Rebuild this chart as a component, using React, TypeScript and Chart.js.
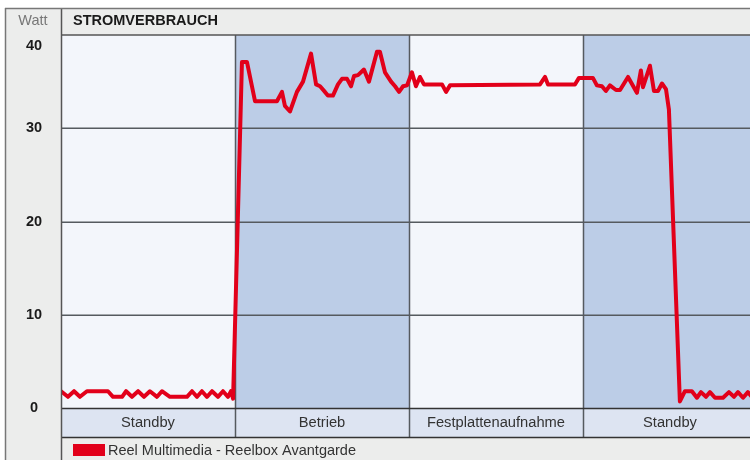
import React, { useEffect, useRef } from "react";
import { Chart, registerables } from "chart.js";

Chart.register(...registerables);

// time axis: one phase = 10 units
const times = [
  0, 0.4, 0.75, 1.09, 1.49, 2.7, 2.99, 3.51, 3.74, 4.08, 4.43, 4.77, 5.11, 5.52, 5.8, 6.26,
  7.24, 7.53, 7.82, 8.1, 8.39, 8.68, 9.02, 9.31, 9.6, 9.77, 9.89,
  10.4, 10.69, 11.15, 12.41, 12.7, 12.87, 13.16, 13.56, 13.91, 14.37, 14.66, 14.89, 15.17,
  15.34, 15.63, 15.92, 16.15, 16.44, 16.67, 16.84, 17.07, 17.41, 17.7, 18.16, 18.33, 18.62,
  18.97, 19.2, 19.43, 19.66, 19.89, 20.17, 20.4, 20.63, 20.86, 21.9, 22.13, 22.36, 27.53,
  27.82, 27.99, 29.54, 29.77, 30.57, 30.8, 31.09, 31.32, 31.55, 31.9, 32.13, 32.59, 33.1,
  33.33, 33.45, 33.85, 34.08, 34.31, 34.54, 34.77, 34.94, 35.57, 35.86, 36.26, 36.55, 36.78,
  37.07, 37.3, 37.59, 38.05, 38.39, 38.68, 38.91, 39.2, 39.48, 39.71,
];
const watts = [
  1.8, 1.2, 1.8, 1.2, 1.8, 1.8, 1.2, 1.2, 1.8, 1.2, 1.8, 1.2, 1.8, 1.2, 1.8, 1.2,
  1.2, 1.8, 1.2, 1.8, 1.2, 1.8, 1.2, 1.8, 1.2, 1.8, 1.0,
  37.1, 37.1, 32.9, 32.9, 33.9, 32.4, 31.8, 33.9, 35.0, 38.0, 34.7, 34.5, 33.9,
  33.5, 33.5, 34.7, 35.3, 35.3, 34.5, 35.6, 35.7, 36.3, 35.0, 38.2, 38.2, 36.0,
  35.0, 34.5, 33.9, 34.5, 34.6, 36.0, 34.5, 35.5, 34.7, 34.7, 33.9, 34.6, 34.7,
  35.5, 34.7, 34.7, 35.4, 35.4, 34.6, 34.5, 34.0, 34.6, 34.1, 34.1, 35.5, 33.8,
  36.2, 34.4, 36.7, 34.0, 34.0, 34.8, 34.2, 32.0, 0.7, 1.8, 1.8, 1.1, 1.7,
  1.2, 1.7, 1.1, 1.1, 1.7, 1.2, 1.7, 1.1, 1.7, 1.2,
];
const phases = ["Standby", "Betrieb", "Festplattenaufnahme", "Standby"];
const phaseBounds = [0, 10, 20, 30, 40];
const yTicks = [0, 10, 20, 30, 40];
const title = "STROMVERBRAUCH";
const unit = "Watt";
const seriesName = "Reel Multimedia - Reelbox Avantgarde";

const FONT = '"Liberation Sans", Arial, Helvetica, sans-serif';
const RED = "#e2001a";
const GREY = "#ecedec";
const LINE = "#555a5f";

const framePlugin = {
  id: "frame",
  beforeDraw(chart: any) {
    const { ctx, chartArea: a, scales } = chart;
    const xs = scales.x;
    const ys = scales.y;
    const W = chart.width;
    const H = chart.height;
    const left0 = 5;
    const top0 = 8;
    ctx.save();
    ctx.fillStyle = GREY;
    ctx.fillRect(left0, top0, W - left0, H - top0);
    // phase backgrounds
    for (let i = 0; i < phases.length; i++) {
      const x0 = Math.max(a.left, xs.getPixelForValue(phaseBounds[i]));
      const x1 = Math.min(a.right, xs.getPixelForValue(phaseBounds[i + 1]));
      ctx.fillStyle = i % 2 === 0 ? "#f3f6fb" : "#bccde7";
      ctx.fillRect(x0, a.top, x1 - x0, a.bottom - a.top);
    }
    // horizontal grid
    ctx.strokeStyle = LINE;
    ctx.lineWidth = 1.5;
    for (const v of yTicks) {
      if (v === ys.min || v === ys.max) continue;
      const y = Math.round(ys.getPixelForValue(v)) + 0.25;
      ctx.beginPath();
      ctx.moveTo(a.left, y);
      ctx.lineTo(a.right, y);
      ctx.stroke();
    }
    // vertical phase separators in plot
    for (let i = 1; i < phases.length; i++) {
      const x = Math.round(xs.getPixelForValue(phaseBounds[i])) + 0.5;
      ctx.beginPath();
      ctx.moveTo(x, a.top);
      ctx.lineTo(x, a.bottom);
      ctx.stroke();
    }
    ctx.restore();
  },
  afterDraw(chart: any) {
    const { ctx, chartArea: a, scales } = chart;
    const xs = scales.x;
    const ys = scales.y;
    const W = chart.width;
    const H = chart.height;
    const left0 = 5;
    const top0 = 8;
    const bandBottom = a.bottom + 29;
    ctx.save();
    // category band
    ctx.fillStyle = "#dde4f2";
    ctx.fillRect(a.left, a.bottom, a.right - a.left, bandBottom - a.bottom);
    ctx.strokeStyle = LINE;
    ctx.lineWidth = 1.5;
    for (let i = 1; i < phases.length; i++) {
      const x = Math.round(xs.getPixelForValue(phaseBounds[i])) + 0.5;
      ctx.beginPath();
      ctx.moveTo(x, a.bottom);
      ctx.lineTo(x, bandBottom);
      ctx.stroke();
    }
    ctx.strokeStyle = "#333";
    ctx.lineWidth = 1.5;
    ctx.beginPath();
    ctx.moveTo(a.left, a.bottom + 0.5);
    ctx.lineTo(W, a.bottom + 0.5);
    ctx.moveTo(a.left, bandBottom + 0.5);
    ctx.lineTo(W, bandBottom + 0.5);
    ctx.stroke();
    // header line, column separator, outer frame
    ctx.strokeStyle = "#555";
    ctx.lineWidth = 1.5;
    ctx.beginPath();
    ctx.moveTo(a.left, a.top);
    ctx.lineTo(W, a.top);
    ctx.moveTo(a.left + 0.5, top0);
    ctx.lineTo(a.left + 0.5, H);
    ctx.stroke();
    ctx.strokeStyle = "#777";
    ctx.beginPath();
    ctx.moveTo(left0, top0 + 0.5);
    ctx.lineTo(W, top0 + 0.5);
    ctx.moveTo(left0 + 0.5, top0);
    ctx.lineTo(left0 + 0.5, H);
    ctx.stroke();

    // texts
    ctx.textBaseline = "middle";
    ctx.textAlign = "center";
    ctx.fillStyle = "#777";
    ctx.font = `14.5px ${FONT}`;
    ctx.fillText(unit, 33, 21);
    ctx.fillStyle = "#1a1a1a";
    ctx.font = `bold 14.5px ${FONT}`;
    for (const v of yTicks) {
      let y = ys.getPixelForValue(v);
      if (y < a.top + 11) y = a.top + 11;
      ctx.fillText(String(v), 34, y);
    }
    ctx.textAlign = "left";
    ctx.font = `bold 14.5px ${FONT}`;
    ctx.fillText(title, 73, 21);

    ctx.fillStyle = "#333";
    ctx.font = `14.7px ${FONT}`;
    ctx.textAlign = "center";
    for (let i = 0; i < phases.length; i++) {
      const cx = xs.getPixelForValue((phaseBounds[i] + phaseBounds[i + 1]) / 2);
      ctx.fillText(phases[i], cx, a.bottom + 15);
    }
    // legend
    ctx.fillStyle = RED;
    ctx.fillRect(73, bandBottom + 7, 32, 12);
    ctx.fillStyle = "#333";
    ctx.textAlign = "left";
    ctx.font = `14.5px ${FONT}`;
    ctx.fillText(seriesName, 108, bandBottom + 14);
    ctx.restore();
  },
};

export default function App() {
  const ref = useRef<HTMLCanvasElement | null>(null);
  useEffect(() => {
    if (!ref.current) return;
    const chart = new Chart(ref.current, {
      type: "line",
      data: {
        datasets: [
          {
            label: seriesName,
            data: times.map((t, i) => ({ x: t, y: watts[i] })),
            borderColor: RED,
            borderWidth: 4,
            pointRadius: 0,
            tension: 0,
            fill: false,
            borderJoinStyle: "round",
            borderCapStyle: "round",
          },
        ],
      },
      options: {
        responsive: false,
        animation: false,
        layout: { padding: { left: 61, top: 35, right: 0, bottom: 52 } },
        plugins: { legend: { display: false }, tooltip: { enabled: false } },
        scales: {
          x: { type: "linear", min: 0, max: 39.6, display: false },
          y: { type: "linear", min: 0, max: 40, display: false },
        },
      },
      plugins: [framePlugin],
    });
    return () => chart.destroy();
  }, []);
  return (
    <div style={{ position: "absolute", left: 0, top: 0, width: 750, height: 460, overflow: "hidden" }}>
      <canvas ref={ref} width={750} height={460} style={{ display: "block" }} />
    </div>
  );
}
